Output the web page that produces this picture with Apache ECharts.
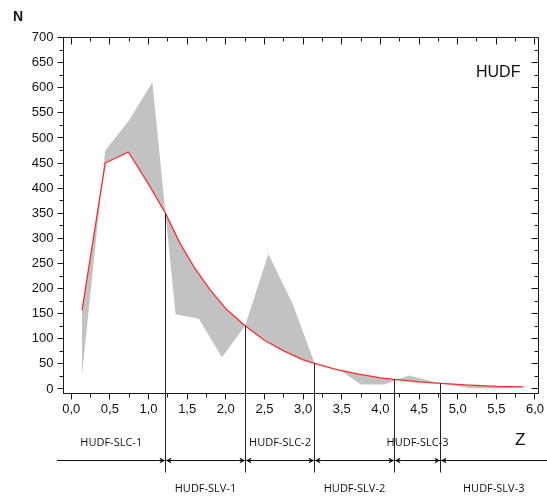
<!DOCTYPE html>
<html>
<head>
<meta charset="utf-8">
<script src="https://cdn.jsdelivr.net/npm/echarts@6/dist/echarts.min.js"></script>
<style>
  html, body { margin: 0; padding: 0; background: #fff; }
  #chart { width: 547px; height: 499px; }
</style>
</head>
<body>
<div id="chart"></div>
<script>
// model curve (red line)
const modelZ = [0.14, 0.44, 0.74, 1.0, 1.22, 1.4, 1.6, 1.8, 2.0, 2.25, 2.5, 2.75, 3.0, 3.15, 3.4, 3.7, 4.0, 4.18, 4.5, 4.78, 5.1, 5.5, 5.85]
const modelN = [157, 450, 472, 408, 350, 292, 240, 197, 160, 126, 97, 76, 58, 51, 40, 30, 22, 19, 14, 11, 8, 5, 4]

// observed counts (other edge of the grey band)
const obsZ = [0.14, 0.44, 0.74, 1.05, 1.35, 1.65, 1.95, 2.25, 2.55, 2.86, 3.15, 3.5, 3.75, 4.05, 4.37, 4.78, 5.15, 5.5, 5.85]
const obsN = [30, 475, 533, 611, 149, 140, 63, 126, 269, 171, 51, 35, 9, 9, 27, 11, 2, 1, 3]

// axes
const zMin = -0.1
const zMax = 6.04
const nMin = -9
const nMax = 700
const zTicks = [0, 0.5, 1, 1.5, 2, 2.5, 3, 3.5, 4, 4.5, 5, 5.5, 6]
const zMinor = [0.25, 0.75, 1.25, 1.75, 2.25, 2.75, 3.25, 3.75, 4.25, 4.75, 5.25, 5.75]
const nTicks = [0, 50, 100, 150, 200, 250, 300, 350, 400, 450, 500, 550, 600, 650, 700]
const nMinor = [25, 75, 125, 175, 225, 275, 325, 375, 425, 475, 525, 575, 625, 675]

// sub-sample boundaries along Z
const boundZ = [1.22, 2.25, 3.15, 4.18, 4.78]
const boundN = [350, 126, 51, 19, 11]
const segLabels = ["HUDF-SLC-1", "HUDF-SLV-1", "HUDF-SLC-2", "HUDF-SLV-2", "HUDF-SLC-3", "HUDF-SLV-3"]

const INK = "#1a1a1a"
const tickFont = { fontFamily: "Liberation Sans", fontSize: 13, color: "#111" }

const chart = echarts.init(document.getElementById("chart"))

chart.setOption({
  animation: false,
  title: [
    { text: "N", left: 8, top: 5, textStyle: { fontFamily: "Liberation Sans", fontSize: 14, fontWeight: "bold", color: "#111" } },
    { text: "Z", left: 510, top: 427, textStyle: { fontFamily: "Liberation Sans", fontSize: 17, fontWeight: "normal", color: "#111" } },
    { text: "HUDF", left: 471, top: 60, textStyle: { fontFamily: "Liberation Sans", fontSize: 16, fontWeight: "normal", color: "#111" } },
  ],
  grid: { left: 63.5, right: 7, top: 37.5, bottom: 105.5 },
  xAxis: {
    type: "value", min: zMin, max: zMax,
    axisLine: { show: true, onZero: false, lineStyle: { color: INK, width: 1 } },
    axisTick: { show: false },
    axisLabel: {
      show: true, customValues: zTicks, margin: 9, ...tickFont,
      formatter: (v) => v.toFixed(1).replace(".", ","),
    },
    splitLine: { show: false },
  },
  yAxis: {
    type: "value", min: nMin, max: nMax,
    axisLine: { show: true, onZero: false, lineStyle: { color: INK, width: 1 } },
    axisTick: { show: false },
    axisLabel: { show: true, customValues: nTicks, margin: 10, ...tickFont },
    splitLine: { show: false },
  },
  series: [
    {
      type: "line",
      data: modelZ.map((z, i) => [z, modelN[i]]),
      symbol: "none",
      lineStyle: { color: "#ff2a2a", width: 1.3 },
      z: 3,
    },
  ],
})

// everything else is placed through the chart's own scales
const px = (z, n) => chart.convertToPixel({ seriesIndex: 0 }, [z, n])
const crisp = (v) => Math.round(v - 0.5) + 0.5

const yBase = crisp(px(0, nMin)[1])
const yTop = crisp(px(0, nMax)[1])
const xLeft = crisp(px(zMin, 0)[0])
const xRight = crisp(px(zMax, 0)[0])

const elements = []
const seg = (x1, y1, x2, y2, color) =>
  elements.push({ type: "line", z: 6, silent: true, shape: { x1, y1, x2, y2 }, style: { stroke: color || INK, lineWidth: 1 } })

// frame with ticks on all four sides
seg(xLeft, yTop, xRight, yTop); seg(xLeft, yBase, xRight, yBase); seg(xLeft, yTop, xLeft, yBase); seg(xRight, yTop, xRight, yBase)
zTicks.forEach((z) => { const x = crisp(px(z, 0)[0]); seg(x, yBase, x, yBase + 6); seg(x, yTop, x, yTop + 7) })
zMinor.forEach((z) => { const x = crisp(px(z, 0)[0]); seg(x, yBase, x, yBase + 4); seg(x, yTop, x, yTop + 4) })
nTicks.forEach((n) => { const y = crisp(px(0, n)[1]); seg(xLeft - 6, y, xLeft, y); seg(xRight - 7, y, xRight, y) })
nMinor.forEach((n) => { const y = crisp(px(0, n)[1]); seg(xLeft - 4, y, xLeft, y); seg(xRight - 4, y, xRight, y) })

// grey band between observed counts and the model
const band = obsZ.map((z, i) => px(z, obsN[i]))
for (let i = modelZ.length - 1; i >= 0; i--) band.push(px(modelZ[i], modelN[i]))
elements.push({ type: "polygon", z: 1, silent: true, shape: { points: band }, style: { fill: "#c2c2c2" } })

// sub-sample boundaries, arrows and labels below the axis
const arrowStart = xLeft - 6.5
const arrowEnd = chart.getWidth()
const yArrow = Math.round(yBase + 66) + 0.5
seg(arrowStart, yArrow, arrowEnd, yArrow, "#111")
const bx = boundZ.map((z, i) => {
  const p = px(z, boundN[i])
  const x = crisp(p[0])
  seg(x, p[1], x, yBase + 79, "#222")
  elements.push({ type: "polygon", z: 6, silent: true, shape: { points: [[x - 0.5, yArrow], [x - 6, yArrow - 3], [x - 4.5, yArrow], [x - 6, yArrow + 3]] }, style: { fill: "#111" } })
  elements.push({ type: "polygon", z: 6, silent: true, shape: { points: [[x + 0.5, yArrow], [x + 6, yArrow - 3], [x + 4.5, yArrow], [x + 6, yArrow + 3]] }, style: { fill: "#111" } })
  return x
})
const edges = [arrowStart, ...bx, arrowEnd]
segLabels.forEach((t, i) => {
  elements.push({
    type: "text", z: 6, silent: true,
    x: (edges[i] + edges[i + 1]) / 2,
    y: i % 2 === 0 ? yBase + 49 : yBase + 95,
    style: {
      text: t, align: "center", verticalAlign: "middle",
      fontFamily: "Open Sans", fontSize: 11, fill: "#111",
    },
  })
})

chart.setOption({ graphic: { elements } })
</script>
</body>
</html>
